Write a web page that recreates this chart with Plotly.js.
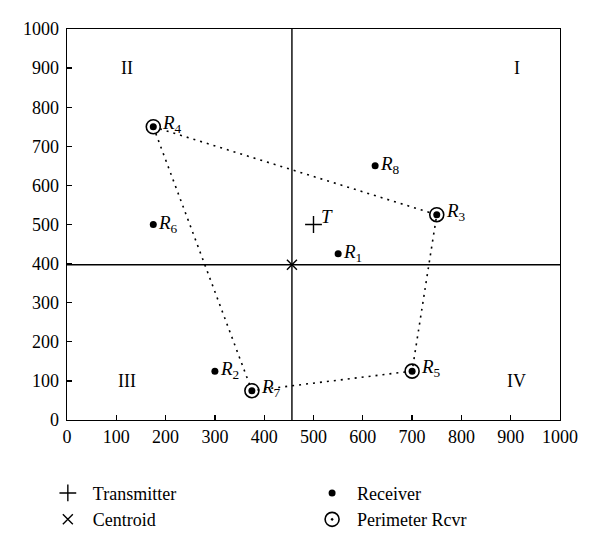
<!DOCTYPE html>
<html><head><meta charset="utf-8">
<script src="https://cdn.plot.ly/plotly-3.0.1.min.js"></script>
<style>body{margin:0;padding:0;background:#fff}#chart{width:600px;height:548px}</style>
</head><body><div id="chart"></div>
<script>
// Receiver positions
const recvNames = ['1','2','3','4','5','6','7','8'];
const recvX = [550, 300, 750, 175, 700, 175, 375, 625];
const recvY = [425, 125, 525, 750, 125, 500, 75, 650];
// Perimeter receivers (polygon order)
const perimNames = ['4','3','5','7'];
// Transmitter
const txX = [500];
const txY = [500];
// Quadrant labels
const quadText = ['I','II','III','IV'];
const quadX = [912, 122, 122, 912];
const quadY = [900, 900, 100, 100];
const tickVals = [0,100,200,300,400,500,600,700,800,900,1000];

const idx = n => recvNames.indexOf(n);
const perimX = perimNames.map(n => recvX[idx(n)]);
const perimY = perimNames.map(n => recvY[idx(n)]);
const cx = recvX.reduce((a,b)=>a+b,0)/recvX.length;
const cy = recvY.reduce((a,b)=>a+b,0)/recvY.length;

const FONT = 'Liberation Serif, Times New Roman, serif';
const traces = [
  {x:[cx,cx], y:[0,1000], mode:'lines', line:{color:'#000', width:1.4}, showlegend:false, hoverinfo:'skip'},
  {x:[0,1000], y:[cy,cy], mode:'lines', line:{color:'#000', width:1.4}, showlegend:false, hoverinfo:'skip'},
  {x:perimX.concat([perimX[0]]), y:perimY.concat([perimY[0]]), mode:'lines',
   line:{color:'#000', width:1.6, dash:'2px,5px'}, showlegend:false, hoverinfo:'skip'},
  {x:txX, y:txY, mode:'markers', name:'Transmitter', legend:'legend', legendrank:1,
   marker:{symbol:'cross-thin', size:12, line:{color:'#000', width:1.4}, color:'#000'}},
  {x:[cx], y:[cy], mode:'markers', name:'Centroid', legend:'legend', legendrank:2,
   marker:{symbol:'x-thin', size:10, line:{color:'#000', width:1.4}, color:'#000'}},
  {x:perimX, y:perimY, mode:'markers', name:'Perimeter Rcvr', legend:'legend2', legendrank:4,
   marker:{symbol:'circle-open-dot', size:14, color:'#000', line:{color:'#000', width:1.6}}},
  {x:recvX, y:recvY, mode:'markers', name:'Receiver', legend:'legend2', legendrank:3,
   marker:{symbol:'circle', size:7, color:'#000'}}
];

const annotations = [];
recvNames.forEach((n,i) => {
  const isPerim = perimNames.includes(n);
  annotations.push({x:recvX[i], y:recvY[i], xref:'x', yref:'y', showarrow:false,
    text:'<i>R</i><sub>'+n+'</sub>', xanchor:'left', yanchor:'bottom',
    xshift: isPerim ? 7 : 3, yshift: isPerim ? -11 : -13,
    font:{family:FONT, size:19, color:'#000'}});
});
annotations.push({x:txX[0], y:txY[0], xref:'x', yref:'y', showarrow:false, text:'<i>T</i>',
  xanchor:'left', yanchor:'bottom', xshift:5, yshift:-4, font:{family:FONT, size:19, color:'#000'}});
quadText.forEach((t,i) => annotations.push({x:quadX[i], y:quadY[i], xref:'x', yref:'y', showarrow:false,
  text:t, font:{family:FONT, size:18, color:'#000'}}));

const axisCommon = {range:[0,1000], tickvals:tickVals, ticks:'inside', ticklen:5, tickwidth:1.3,
  tickcolor:'#000', showline:true, linecolor:'#000', linewidth:1.4, mirror:true,
  showgrid:false, zeroline:false, tickfont:{family:FONT, size:18, color:'#000'}, fixedrange:true};

const layout = {
  width:600, height:548, paper_bgcolor:'#fff', plot_bgcolor:'#fff',
  margin:{l:67, r:40, t:29, b:128, autoexpand:false},
  xaxis:Object.assign({}, axisCommon),
  yaxis:Object.assign({ticklabelstandoff:3}, axisCommon),
  annotations:annotations,
  font:{family:FONT, size:18, color:'#000'},
  legend:{x:-0.049, y:-0.14, xanchor:'left', yanchor:'top', xref:'paper', yref:'paper', itemwidth:40,
    bgcolor:'rgba(0,0,0,0)', font:{family:FONT, size:18, color:'#000'}, tracegroupgap:0},
  legend2:{x:0.487, y:-0.14, xanchor:'left', yanchor:'top', xref:'paper', yref:'paper', itemwidth:40,
    bgcolor:'rgba(0,0,0,0)', font:{family:FONT, size:18, color:'#000'}, tracegroupgap:0},
  showlegend:true
};
Plotly.newPlot('chart', traces, layout, {staticPlot:true, displayModeBar:false});
</script></body></html>
